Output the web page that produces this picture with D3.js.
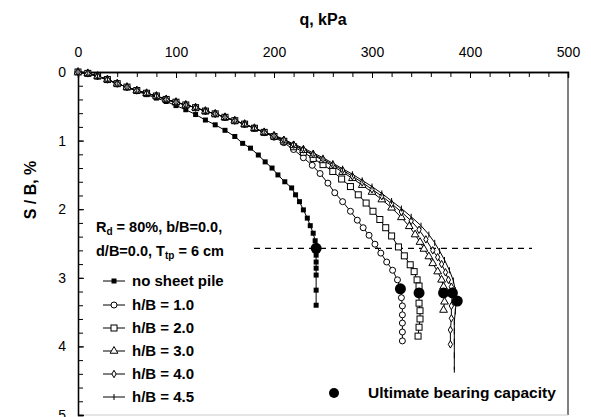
<!DOCTYPE html>
<html><head><meta charset="utf-8">
<script src="https://cdn.jsdelivr.net/npm/d3@7"></script>
<style>body{margin:0;background:#fff}svg{display:block}text{font-family:"Liberation Sans",Arial,sans-serif}</style>
</head><body><svg id="c" width="591" height="417"></svg>
<script>
// ---- data (q in kPa, S/B in %) ----
const seriesNames = ["no sheet pile","h/B = 1.0","h/B = 2.0","h/B = 3.0","h/B = 4.0","h/B = 4.5"];
const bundle = [[0,0],[10,0.02],[20,0.06],[30,0.11],[40,0.17],[50,0.22],[60,0.27],[70,0.31],[80,0.35],[90,0.40],[100,0.44],[110,0.48],[120,0.52],[130,0.57],[140,0.61],[150,0.66],[160,0.71],[170,0.76],[180,0.82],[190,0.88]];
const noPile = [[0,0],[10,0.02],[20,0.06],[30,0.11],[40,0.17],[50,0.22],[60,0.28],[70,0.33],[80,0.38],[90,0.43],[100,0.49],[110,0.55],[120,0.62],[130,0.70],[140,0.77],[150,0.85],[160,0.94],[168,1.04],[176,1.11],[184,1.21],[191,1.31],[198,1.40],[204,1.50],[211,1.60],[218,1.69],[222,1.79],[226,1.89],[230,2.01],[234,2.13],[237,2.24],[240,2.35],[242,2.46],[243,2.57],[243,2.67],[243,2.77],[243,2.86],[243,2.96],[243,3.18],[243,3.40]];
const hb10 = [[200,0.95],[210,1.03],[220,1.13],[230,1.25],[239,1.36],[247,1.48],[255,1.62],[262,1.76],[270,1.89],[278,2.03],[285,2.16],[291,2.27],[297,2.38],[303,2.51],[309,2.64],[315,2.77],[321,2.89],[326,3.03],[329,3.16],[330,3.29],[331,3.41],[331,3.54],[331,3.66],[331,3.79],[331,3.92]];
const hb20 = [[200,0.94],[210,1.01],[220,1.09],[230,1.17],[240,1.26],[250,1.35],[260,1.45],[269,1.56],[278,1.67],[286,1.79],[294,1.91],[301,2.03],[308,2.15],[314,2.27],[320,2.39],[327,2.55],[333,2.68],[339,2.81],[343,2.91],[346,3.03],[348,3.12],[348,3.22],[348,3.37],[349,3.48],[349,3.60],[348,3.72],[347,3.85]];
const hb30 = [[200,0.93],[210,1.00],[220,1.07],[230,1.14],[240,1.21],[250,1.29],[260,1.37],[270,1.46],[280,1.55],[290,1.65],[300,1.75],[310,1.86],[320,1.98],[330,2.12],[338,2.25],[344,2.37],[349,2.48],[353,2.58],[358,2.69],[362,2.79],[367,2.91],[371,3.03],[373,3.13],[373,3.22],[374,3.35],[373,3.47]];
const hb40 = [[200,0.93],[210,0.99],[220,1.06],[230,1.13],[240,1.20],[250,1.27],[260,1.35],[270,1.43],[280,1.52],[290,1.61],[300,1.71],[310,1.81],[320,1.92],[330,2.04],[340,2.17],[348,2.30],[355,2.44],[362,2.60],[367,2.70],[371,2.80],[375,2.92],[378,3.03],[381,3.13],[382,3.22],[381,3.41],[381,3.59],[380,3.76],[380,3.97]];
const hb45 = [[200,0.92],[210,0.98],[220,1.05],[230,1.11],[240,1.18],[250,1.25],[260,1.33],[270,1.41],[280,1.49],[290,1.58],[300,1.67],[310,1.77],[320,1.88],[330,1.99],[340,2.11],[350,2.24],[358,2.37],[364,2.49],[369,2.61],[374,2.74],[379,2.89],[383,3.04],[385,3.18],[386,3.34],[385,3.49],[384,3.64],[384,3.78],[384,3.93],[384,4.13],[384,4.34]];
const ultimateQ = [243,329,348,373,382,387];
const ultimateS = [2.57,3.16,3.22,3.22,3.22,3.34];
const xTicks = [0,100,200,300,400,500];
const yTicks = [0,1,2,3,4,5];
const limitS = 2.57;

const svg = d3.select("#c");
const x = d3.scaleLinear().domain([0,500]).range([78,568]);
const y = d3.scaleLinear().domain([0,5]).range([72,415]);

// frame
svg.append("line").attr("x1",x(500)).attr("x2",x(500)).attr("y1",y(0)).attr("y2",y(5)).attr("stroke","#000");
svg.append("line").attr("x1",x(0)).attr("x2",x(500)).attr("y1",y(5)).attr("y2",y(5)).attr("stroke","#ccc");

// axes
const xMinor = svg.append("g").attr("transform",`translate(0,${y(0)})`)
  .call(d3.axisTop(x).tickValues(d3.range(0,501,20)).tickSize(-5).tickFormat(""));
const xMajor = svg.append("g").attr("transform",`translate(0,${y(0)})`)
  .call(d3.axisTop(x).tickValues(xTicks).tickSize(-6).tickPadding(15).tickFormat(d3.format("d")));
const yMinor = svg.append("g").attr("transform",`translate(${x(0)},0)`)
  .call(d3.axisLeft(y).tickValues(d3.range(0,5.01,0.2)).tickSize(-5).tickFormat(""));
const yMajor = svg.append("g").attr("transform",`translate(${x(0)},0)`)
  .call(d3.axisLeft(y).tickValues(yTicks).tickSize(-6).tickPadding(12).tickFormat(d3.format("d")));
[xMinor,xMajor,yMinor,yMajor].forEach(g=>{
  g.selectAll("path").attr("stroke","#000").attr("stroke-width",1.3);
  g.selectAll("line").attr("stroke","#000");
  g.selectAll("text").attr("font-size",14).attr("fill","#000").attr("font-family","'Liberation Sans Narrow','Liberation Sans',Arial,sans-serif");
});

// titles
svg.append("text").attr("x",323).attr("y",25).attr("text-anchor","middle").attr("font-size",16).attr("font-weight","bold").text("q, kPa");
svg.append("text").attr("transform","translate(36,190) rotate(-90)").attr("text-anchor","middle").attr("font-size",16).attr("font-weight","bold").text("S / B, %");

// limit dashed line
svg.append("line").attr("x1",254).attr("x2",532).attr("y1",y(limitS)).attr("y2",y(limitS))
  .attr("stroke","#000").attr("stroke-width",1.3).attr("stroke-dasharray","6,5");

// series
const curves = [noPile, bundle.concat(hb10), bundle.concat(hb20), bundle.concat(hb30), bundle.concat(hb40), bundle.concat(hb45)];
const line = d3.line().x(d=>x(d[0])).y(d=>y(d[1]));
function marker(g, i, cx, cy){
  const s = g.append("g").attr("transform",`translate(${cx},${cy})`);
  if(i===0) s.append("rect").attr("x",-2.5).attr("y",-2.5).attr("width",5).attr("height",5).attr("fill","#000");
  else if(i===1) s.append("circle").attr("r",3).attr("fill","#fff").attr("stroke","#000");
  else if(i===2) s.append("rect").attr("x",-3).attr("y",-3).attr("width",6).attr("height",6).attr("fill","#fff").attr("stroke","#000");
  else if(i===3) s.append("path").attr("d",d3.symbol(d3.symbolTriangle,26)()).attr("fill","#fff").attr("stroke","#000");
  else if(i===4) s.append("path").attr("d",d3.symbol(d3.symbolDiamond,16)()).attr("fill","#fff").attr("stroke","#000");
  else s.append("line").attr("y1",-3).attr("y2",3).attr("stroke","#000");
}
curves.forEach((c,i)=>{
  svg.append("path").datum(c).attr("d",line).attr("fill","none").attr("stroke","#000").attr("stroke-width",1);
});
curves.forEach((c,i)=>{
  const g = svg.append("g");
  c.forEach(d=>marker(g,i,x(d[0]),y(d[1])));
});
// ultimate points
svg.append("g").selectAll("circle").data(ultimateQ).join("circle")
  .attr("cx",(d,i)=>x(d)).attr("cy",(d,i)=>y(ultimateS[i])).attr("r",5.5).attr("fill","#000");

// annotation
const ann = svg.append("g").attr("font-size",14.5).attr("font-weight","bold");
const t1 = ann.append("text").attr("x",96).attr("y",232);
t1.append("tspan").text("R");
t1.append("tspan").attr("font-size",10).attr("dy",3).text("d");
t1.append("tspan").attr("dy",-3).text(" = 80%,  b/B=0.0,");
const t2 = ann.append("text").attr("x",96).attr("y",256);
t2.append("tspan").text("d/B=0.0, T");
t2.append("tspan").attr("font-size",10).attr("dy",3).text("tp");
t2.append("tspan").attr("dy",-3).text(" = 6 cm");

// legend
const legY = [281,305,328,351,374,397];
seriesNames.forEach((n,i)=>{
  const g = svg.append("g");
  g.append("line").attr("x1",103).attr("x2",125).attr("y1",legY[i]).attr("y2",legY[i]).attr("stroke","#000");
  marker(g,i,114,legY[i]);
  g.append("text").attr("x",132).attr("y",legY[i]+5).attr("font-size",15).attr("font-weight","bold").text(n);
});
svg.append("circle").attr("cx",334).attr("cy",393).attr("r",5).attr("fill","#000");
svg.append("text").attr("x",368).attr("y",398).attr("font-size",15.5).attr("font-weight","bold").text("Ultimate bearing capacity");
</script></body></html>
